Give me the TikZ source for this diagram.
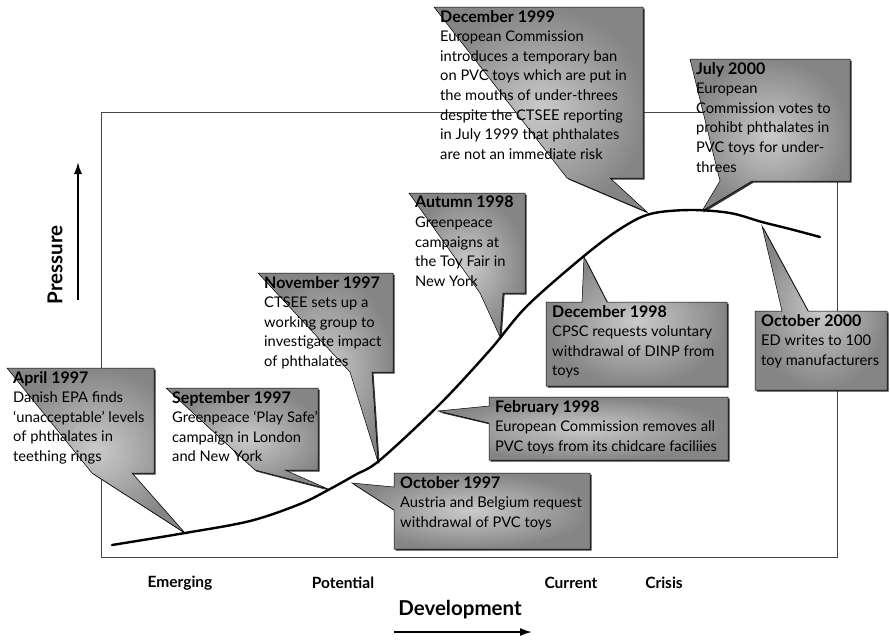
\documentclass[tikz,border=0pt]{standalone}
\usepackage{fontspec}
\setmainfont{Lato}
\usetikzlibrary{calc,shadows,arrows.meta}
\definecolor{calin}{HTML}{CACACA}
\definecolor{calout}{HTML}{858585}
\definecolor{framec}{HTML}{444444}
% heading line of a callout
\newcommand\hd[1]{{\fontsize{16}{19.6}\selectfont\bfseries #1}}

\begin{document}
\begin{tikzpicture}[x=1pt,y=-1pt,
  callout/.style={draw=black, line width=0.5pt, inner color=calin, outer color=calout,
    drop shadow={shadow xshift=1.6pt, shadow yshift=-1.6pt, fill=black!80, opacity=1}},
  boxarea/.style={inner sep=0pt, outer sep=0pt, anchor=north west},
  note/.style={inner sep=0pt, anchor=north west, align=left, font=\fontsize{14.7}{19.6}\selectfont},
  stage/.style={font=\bfseries\fontsize{15.5}{17}\selectfont},
  axislabel/.style={font=\bfseries\fontsize{20.5}{22}\selectfont},
  axisarrow/.style={line width=1.8pt, -{Latex[length=12pt,width=8pt]}},
]
\useasboundingbox (0,0) rectangle (890,641);

% frame of the chart
\draw[framec, line width=0.7pt] (101,112) rectangle (837,557);

% points where the callouts touch the curve
\coordinate (tApr) at (185,533);
\coordinate (tSep) at (328,489);
\coordinate (tOct) at (352,483);
\coordinate (tNov) at (378,462);
\coordinate (tAut) at (500,337);
\coordinate (tDnn) at (647,212);
\coordinate (tJul) at (702,211);
\coordinate (tDne) at (584,257);
\coordinate (tFeb) at (438,411);
\coordinate (tOzz) at (762,226);

% callout boxes
\node[boxarea, minimum width=147pt, minimum height=105pt] (apr) at (7,368) {};
\path[callout] (apr.north west) -- (apr.north east) -- (apr.south east)
  -- ($(apr.south west)+(125,0)$) -- (tApr) -- ($(apr.south west)+(85,0)$) -- cycle;
\node[note] (aprT) at ($(apr.north west)+(6,3)$)
  {\hd{April 1997}\\Danish EPA finds\\‘unacceptable’ levels\\of phthalates in\\teething rings};

\node[boxarea, minimum width=152pt, minimum height=82pt] (sep) at (166,388) {};
\path[callout] (sep.north west) -- (sep.north east) -- (sep.south east)
  -- ($(sep.south west)+(119,0)$) -- (tSep) -- ($(sep.south west)+(89,0)$) -- cycle;
\node[note] (sepT) at ($(sep.north west)+(6,3)$)
  {\hd{September 1997}\\Greenpeace ‘Play Safe’\\campaign in London\\and New York};

\node[boxarea, minimum width=196pt, minimum height=76pt] (oct) at (394,473) {};
\path[callout] (oct.north west) -- (oct.north east) -- (oct.south east) -- (oct.south west)
  -- ($(oct.north west)+(0,37)$) -- (tOct) -- ($(oct.north west)+(0,14)$) -- cycle;
\node[note] (octT) at ($(oct.north west)+(6,3)$)
  {\hd{October 1997}\\Austria and Belgium request\\withdrawal of PVC toys};

\node[boxarea, minimum width=135pt, minimum height=99pt] (nov) at (258,273) {};
\path[callout] (nov.north west) -- (nov.north east) -- (nov.south east)
  -- ($(nov.south west)+(114,0)$) -- (tNov) -- ($(nov.south west)+(92,0)$) -- cycle;
\node[note] (novT) at ($(nov.north west)+(6,3)$)
  {\hd{November 1997}\\CTSEE sets up a\\working group to\\investigate impact\\of phthalates};

\node[boxarea, minimum width=116pt, minimum height=100pt] (aut) at (409,193) {};
\path[callout] (aut.north west) -- (aut.north east) -- (aut.south east)
  -- ($(aut.south west)+(94,0)$) -- (tAut) -- ($(aut.south west)+(71,0)$) -- cycle;
\node[note] (autT) at ($(aut.north west)+(6,3)$)
  {\hd{Autumn 1998}\\Greenpeace\\campaigns at\\the Toy Fair in\\New York};

\node[boxarea, minimum width=209pt, minimum height=171pt] (dnn) at (434,7) {};
\path[callout] (dnn.north west) -- (dnn.north east) -- (dnn.south east)
  -- ($(dnn.south west)+(176,0)$) -- (tDnn) -- ($(dnn.south west)+(133,0)$) -- cycle;
\node[note] (dnnT) at ($(dnn.north west)+(6,3)$)
  {\hd{December 1999}\\European Commission\\introduces a temporary ban\\on PVC toys which are put in\\the mouths of under-threes\\despite the CTSEE reporting\\in July 1999 that phthalates\\are not an immediate risk};

\node[boxarea, minimum width=160pt, minimum height=122pt] (jul) at (690,59) {};
\path[callout] (jul.north west) -- (jul.north east) -- (jul.south east)
  -- ($(jul.south west)+(62,0)$) -- (tJul) -- ($(jul.south west)+(30,0)$) -- cycle;
\node[note] (julT) at ($(jul.north west)+(6,3)$)
  {\hd{July 2000}\\European\\Commission votes to\\prohibt phthalates in\\PVC toys for under-\\threes};

\node[boxarea, minimum width=181pt, minimum height=84pt] (dne) at (546,302) {};
\path[callout] (dne.north west) -- ($(dne.north west)+(36,0)$) -- (tDne)
  -- ($(dne.north west)+(61,0)$) -- (dne.north east) -- (dne.south east) -- (dne.south west) -- cycle;
\node[note] (dneT) at ($(dne.north west)+(6,3)$)
  {\hd{December 1998}\\CPSC requests voluntary\\withdrawal of DINP from\\toys};

\node[boxarea, minimum width=239pt, minimum height=63pt] (feb) at (489,397) {};
\path[callout] (feb.north west) -- (feb.north east) -- (feb.south east) -- (feb.south west)
  -- ($(feb.north west)+(0,26)$) -- (tFeb) -- ($(feb.north west)+(0,9)$) -- cycle;
\node[note] (febT) at ($(feb.north west)+(6,3)$)
  {\hd{February 1998}\\European Commission removes all\\PVC toys from its chidcare faciliies};

\node[boxarea, minimum width=132pt, minimum height=79pt] (ozz) at (755,311) {};
\path[callout] (ozz.north west) -- ($(ozz.north west)+(27,0)$) -- (tOzz)
  -- ($(ozz.north west)+(53,0)$) -- (ozz.north east) -- (ozz.south east) -- (ozz.south west) -- cycle;
\node[note] (ozzT) at ($(ozz.north west)+(6,3)$)
  {\hd{October 2000}\\ED writes to 100\\toy manufacturers};

% the pressure curve
\draw[line width=2.4pt, line cap=round] plot[smooth, tension=0.55] coordinates {
  (112,545) (185,533) (250,521) (300,504) (330,489) (355,475) (380,460)
  (440,404) (490,350) (527,306) (584,256) (620,229) (650,214) (690,210)
  (730,213) (762,222) (790,229) (820,237)};

% axes
\coordinate (pBot) at (78,300);
\coordinate (pTop) at (78,162);
\draw[axisarrow] (pBot) -- (pTop);
\node[axislabel, rotate=90] (pLab) at (55,265) {Pressure};

\coordinate (dL) at (394,632);
\coordinate (dR) at (532,632);
\draw[axisarrow] (dL) -- (dR);
\node[axislabel] (dLab) at (460,610) {Development};

% stages
\node[stage] (sEm) at (180,583) {Emerging};
\node[stage] (sPo) at (343,583) {Potential};
\node[stage] (sCu) at (571,583) {Current};
\node[stage] (sCr) at (664,583) {Crisis};
\end{tikzpicture}
\end{document}
